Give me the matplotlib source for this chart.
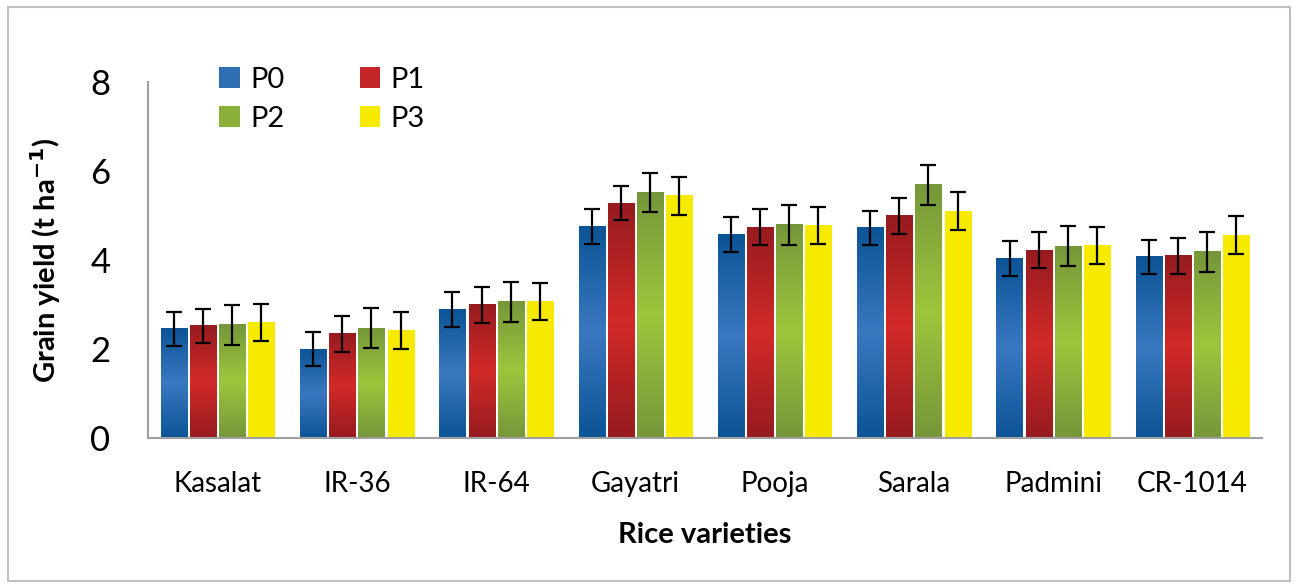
import numpy as np
import matplotlib.pyplot as plt
from matplotlib.colors import LinearSegmentedColormap
from matplotlib.patches import Patch, Rectangle

plt.rcParams['font.family'] = ['Lato', 'DejaVu Sans']

# Data
varieties = ['Kasalat', 'IR-36', 'IR-64', 'Gayatri', 'Pooja', 'Sarala', 'Padmini', 'CR-1014']
series = ['P0', 'P1', 'P2', 'P3']
p0 = [2.45, 2.00, 2.89, 4.76, 4.58, 4.72, 4.04, 4.07]
p1 = [2.52, 2.34, 2.99, 5.28, 4.74, 4.99, 4.22, 4.09]
p2 = [2.54, 2.47, 3.06, 5.51, 4.79, 5.69, 4.31, 4.18]
p3 = [2.60, 2.41, 3.06, 5.44, 4.77, 5.10, 4.33, 4.56]
err0 = [0.38, 0.39, 0.39, 0.39, 0.39, 0.39, 0.39, 0.38]
err1 = [0.38, 0.41, 0.41, 0.39, 0.40, 0.40, 0.40, 0.40]
err2 = [0.44, 0.45, 0.45, 0.44, 0.45, 0.45, 0.45, 0.45]
err3 = [0.41, 0.42, 0.42, 0.42, 0.42, 0.42, 0.42, 0.42]
yticks = [0, 2, 4, 6, 8]

values = [p0, p1, p2, p3]
errors = [err0, err1, err2, err3]

# dark edge -> light middle -> dark edge gradients
gradients = [
    ['#0b5495', '#3a78c0', '#0b5495'],
    ['#961b1f', '#d22a28', '#961b1f'],
    ['#76963a', '#9dc63c', '#76963a'],
    ['#f5ea00', '#f7ec00', '#f5ea00'],
]
legend_colors = ['#2f6db2', '#c42627', '#8ab03a', '#f5ea00']

fig = plt.figure(figsize=(12.96, 5.86), dpi=100)
fig.patches.append(Rectangle((0.006, 0.008), 0.989, 0.98, transform=fig.transFigure,
                             fill=False, edgecolor='#bfbfbf', linewidth=1.5))
ax = fig.add_axes([0.1142, 0.2526, 0.8596, 0.6075])

x = np.arange(len(varieties))
step = 0.209
width = 0.187
ramp = np.linspace(0, 1, 256).reshape(-1, 1)

for i, (vals, errs) in enumerate(zip(values, errors)):
    pos = x + (i - 1.5) * step
    cmap = LinearSegmentedColormap.from_list('g%d' % i, gradients[i])
    bars = ax.bar(pos, vals, width, color='none', edgecolor='none', zorder=2)
    for b in bars:
        ax.imshow(ramp, cmap=cmap, aspect='auto', origin='lower', interpolation='bilinear',
                  extent=[b.get_x(), b.get_x() + b.get_width(), 0, b.get_height()], zorder=2)
    ax.errorbar(pos, vals, yerr=errs, fmt='none', ecolor='black', elinewidth=1.6,
                capsize=6, capthick=1.6, zorder=3)

ax.set_xlim(-0.5, len(varieties) - 0.5)
ax.set_ylim(0, 8)
ax.set_yticks(yticks)
ax.set_xticks(x)
ax.set_xticklabels(varieties, fontsize=20)
ax.tick_params(axis='y', labelsize=25, length=0, pad=27)
ax.tick_params(axis='x', length=0, pad=24)

for side in ['top', 'right']:
    ax.spines[side].set_visible(False)
for side in ['left', 'bottom']:
    ax.spines[side].set_color('#a0a0a0')
    ax.spines[side].set_linewidth(1.5)

ax.set_xlabel('Rice varieties', fontsize=21, fontweight='bold', labelpad=18)
ax.set_ylabel('Grain yield (t ha$^{\\mathbf{-1}}$)', fontsize=21, fontweight='bold', labelpad=20)

# legend fills column-wise, so order handles to read P0 P1 / P2 P3 by rows
order = [0, 2, 1, 3]
handles = [Patch(facecolor=legend_colors[k], edgecolor='none') for k in order]
labels = [series[k] for k in order]
ax.legend(handles, labels, loc='upper left', bbox_to_anchor=(0.064, 1.043), ncol=2,
          frameon=False, fontsize=21, borderpad=0, borderaxespad=0,
          handlelength=0.7, handleheight=0.7, handletextpad=0.35,
          columnspacing=2.6, labelspacing=0.45)

fig.savefig('out.png', dpi=100)
